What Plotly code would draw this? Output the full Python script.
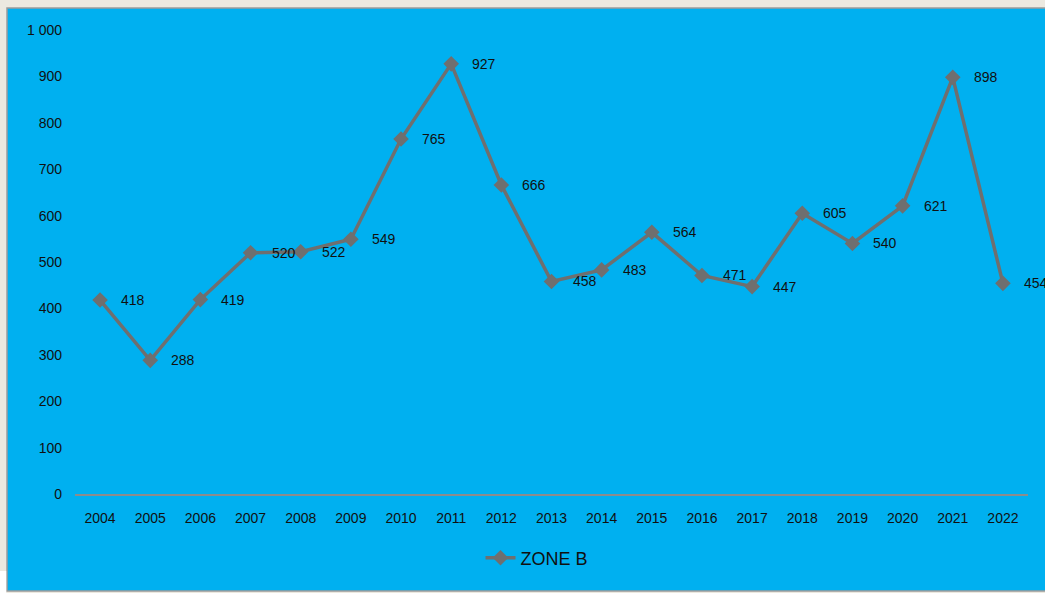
import plotly.graph_objects as go

years = ["2004", "2005", "2006", "2007", "2008", "2009", "2010", "2011", "2012", "2013",
         "2014", "2015", "2016", "2017", "2018", "2019", "2020", "2021", "2022"]
zone_b = [418, 288, 419, 520, 522, 549, 765, 927, 666, 458,
          483, 564, 471, 447, 605, 540, 621, 898, 454]
series_name = "ZONE B"

W, H = 1045, 593
L, R, T, B = 75, 17, 30, 99
pw, ph = W - L - R, H - T - B

def px(x):
    return (x - L) / pw

def py(y):
    return (H - B - y) / ph

BLUE = "#00B0F0"
GRAY = "#6F6F6F"
TXT = "#101010"
FONT = "Liberation Sans"

fig = go.Figure()
fig.add_trace(go.Scatter(
    x=years, y=zone_b, mode="lines+markers", name=series_name,
    line=dict(color=GRAY, width=3.5),
    marker=dict(symbol="diamond", size=12, color=GRAY),
))

for i, v in enumerate(zone_b):
    fig.add_annotation(x=i, y=v, xref="x", yref="y", text=str(v), showarrow=False,
                       xanchor="left", yanchor="middle", xshift=19,
                       font=dict(family=FONT, size=14, color=TXT))

shapes = [
    dict(type="rect", xref="paper", yref="paper", layer="below",
         x0=px(7), x1=px(W + 10), y0=py(591), y1=py(8),
         fillcolor=BLUE, line=dict(color="#9A9A9A", width=1.5)),
    dict(type="rect", xref="paper", yref="paper", layer="below",
         x0=px(-5), x1=px(6.2), y0=py(H + 5), y1=py(571),
         fillcolor="#FFFFFF", line=dict(width=0)),
]

fig.update_layout(
    width=W, height=H,
    margin=dict(l=L, r=R, t=T, b=B),
    paper_bgcolor="#ECE9E0",
    plot_bgcolor="rgba(0,0,0,0)",
    separators=". ",
    shapes=shapes,
    showlegend=True,
    legend=dict(orientation="h", x=px(537), y=py(558), xanchor="center", yanchor="middle",
                bgcolor="rgba(0,0,0,0)",
                font=dict(family=FONT, size=18, color=TXT)),
    xaxis=dict(type="category", range=[-0.5, 18.5], showgrid=False, zeroline=False,
               showline=True, linecolor="#8C8C8C", linewidth=2, ticks="",
               ticklabelstandoff=10,
               tickfont=dict(family=FONT, size=14, color=TXT)),
    yaxis=dict(range=[0, 1000], dtick=100, tickformat=",d", showgrid=False,
               zeroline=False, showline=False, ticks="", ticklabelstandoff=12,
               tickfont=dict(family=FONT, size=14, color=TXT)),
    font=dict(family=FONT),
)

fig.write_html("out.html", config={"displayModeBar": False},
               post_script="document.body.style.margin='0';document.body.style.overflow='hidden';")
